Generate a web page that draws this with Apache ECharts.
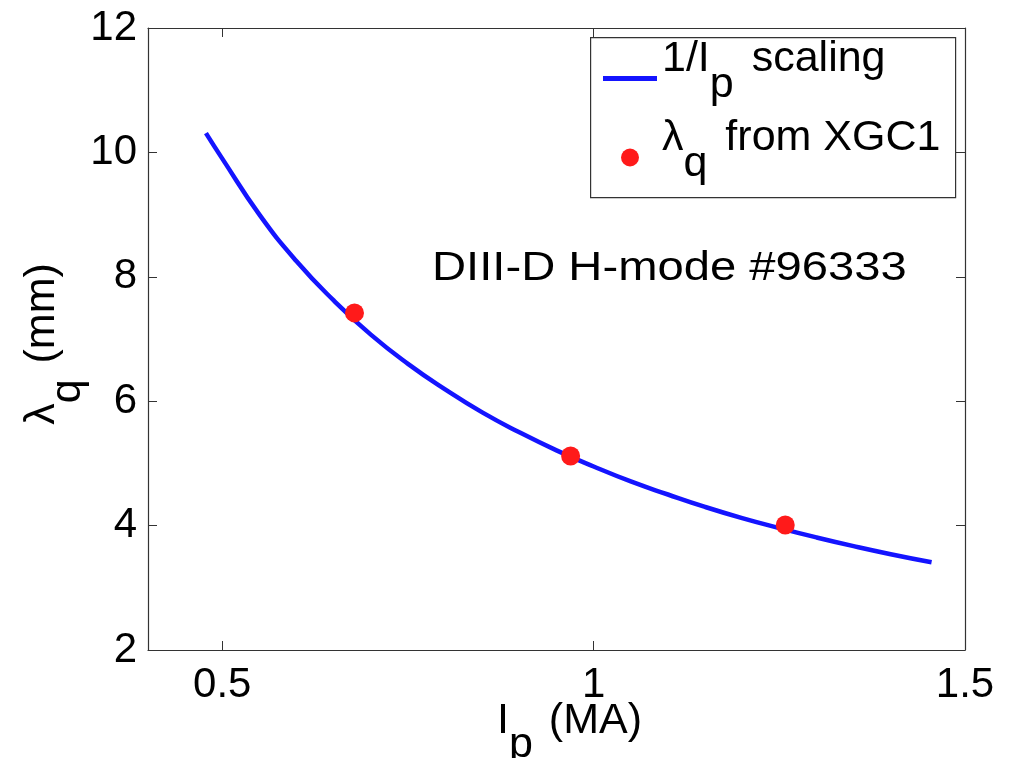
<!DOCTYPE html>
<html>
<head>
<meta charset="utf-8">
<script src="https://cdn.jsdelivr.net/npm/echarts@6/dist/echarts.min.js"></script>
<style>
html,body{margin:0;padding:0;background:#ffffff;}
#chart{width:1009px;height:758px;}
</style>
</head>
<body>
<div id="chart"></div>
<script>
// ---- data ----
const curveIp = [0.478, 0.5, 0.55, 0.6, 0.65, 0.7, 0.75, 0.8, 0.85, 0.9, 0.95, 1.0, 1.05, 1.1, 1.15, 1.2, 1.25, 1.3, 1.35, 1.4, 1.455];
const curveLambda = [10.31, 9.9, 9.0, 8.25, 7.62, 7.07, 6.6, 6.19, 5.82, 5.5, 5.21, 4.95, 4.71, 4.5, 4.3, 4.12, 3.96, 3.81, 3.67, 3.54, 3.41];
const xgcIp = [0.678, 0.969, 1.258];
const xgcLambda = [7.42, 5.12, 4.01];
const xTickValues = [0.5, 1, 1.5];
const yTickValues = [2, 4, 6, 8, 10, 12];
const seriesNames = ['1/Ip scaling', 'λq from XGC1'];
const annotationText = 'DIII-D H-mode #96333';

const FONT = '"Liberation Sans", Arial, Helvetica, sans-serif';
const chart = echarts.init(document.getElementById('chart'), null, {renderer: 'canvas'});

const curveData = curveIp.map((x, i) => [x, curveLambda[i]]);
const xgcData = xgcIp.map((x, i) => [x, xgcLambda[i]]);

const subRich = (size, drop) => ({
  a: {fontFamily: FONT, fontSize: size, color: '#000', lineHeight: size + 4, verticalAlign: 'top'},
  s: {fontFamily: FONT, fontSize: size, color: '#000', lineHeight: size + 4, verticalAlign: 'top', padding: [drop, 4, 0, 0]}
});

const legendRich = {
  a: {fontFamily: FONT, fontSize: 43, color: '#000', lineHeight: 47, verticalAlign: 'top'},
  s: {fontFamily: FONT, fontSize: 43, color: '#000', lineHeight: 47, verticalAlign: 'top', padding: [26, 6, 0, 0]}
};

const tickLine = {show: true, inside: true, length: 9, lineStyle: {color: '#333', width: 1}};
const axisLine = {show: true, lineStyle: {color: '#333', width: 1.2}};

const option = {
  backgroundColor: '#ffffff',
  animation: false,
  grid: {left: 148, right: 44, top: 28, bottom: 108, containLabel: false, outerBoundsMode: 'none'},
  xAxis: [{
    type: 'value', min: 0.4, max: 1.5, position: 'bottom',
    axisLine: axisLine,
    axisTick: Object.assign({customValues: xTickValues}, tickLine),
    axisLabel: {customValues: xTickValues, fontFamily: FONT, fontSize: 42, color: '#000', margin: 14},
    splitLine: {show: false},
    name: '{a|I}{s|p}{a| (MA)}', nameLocation: 'middle', nameGap: 50, nameMoveOverlap: false,
    nameTextStyle: {rich: subRich(43, 24), padding: [0, 0, 0, 26]}
  }, {
    type: 'value', min: 0.4, max: 1.5, position: 'top',
    axisLine: axisLine,
    axisTick: Object.assign({customValues: xTickValues}, tickLine),
    axisLabel: {show: false},
    splitLine: {show: false}
  }],
  yAxis: [{
    type: 'value', min: 2, max: 12, interval: 2, position: 'left',
    axisLine: axisLine,
    axisTick: Object.assign({customValues: yTickValues}, tickLine),
    axisLabel: {customValues: yTickValues, fontFamily: FONT, fontSize: 42, color: '#000', margin: 11},
    splitLine: {show: false},
    name: '{a|λ}{s|q}{a| (mm)}', nameLocation: 'middle', nameGap: 80, nameRotate: 90, nameMoveOverlap: false,
    nameTextStyle: {rich: subRich(43, 26), padding: [0, 10, 0, 0]}
  }, {
    type: 'value', min: 2, max: 12, interval: 2, position: 'right',
    axisLine: axisLine,
    axisTick: Object.assign({customValues: yTickValues}, tickLine),
    axisLabel: {show: false},
    splitLine: {show: false}
  }],
  legend: {
    orient: 'vertical', left: 603, top: 38, padding: 0, itemGap: 10,
    itemWidth: 54, itemHeight: 18, z: 10,
    data: [
      {name: seriesNames[0], icon: 'path://M0,0 H54 V5 H0 Z', itemStyle: {color: '#1414ff'}},
      {name: seriesNames[1], icon: 'circle', itemStyle: {color: '#ff1a1a'}}
    ],
    formatter: function (name) {
      if (name === seriesNames[0]) return '{a|1/I}{s|p}{a| scaling}';
      return '{a|λ}{s|q}{a| from XGC1}';
    },
    textStyle: {rich: legendRich, padding: [0, 0, 34, 0]}
  },
  graphic: [
    {type: 'rect', left: 590, top: 37, z: 5, shape: {width: 365, height: 160},
     style: {fill: '#ffffff', stroke: '#333', lineWidth: 1.2}},
    {type: 'text', left: 432, top: 249, z: 5, scaleX: 1.18,
     style: {text: annotationText, font: '40px ' + FONT, fill: '#000'}}
  ],
  series: [{
    name: seriesNames[0], type: 'line', data: curveData, smooth: true,
    showSymbol: false, symbol: 'none',
    lineStyle: {color: '#1414ff', width: 4.5}, itemStyle: {color: '#1414ff'}, z: 2
  }, {
    name: seriesNames[1], type: 'scatter', data: xgcData, symbol: 'circle', symbolSize: 19,
    itemStyle: {color: '#ff1a1a', opacity: 1}, z: 3
  }]
};
chart.setOption(option);
</script>
</body>
</html>
